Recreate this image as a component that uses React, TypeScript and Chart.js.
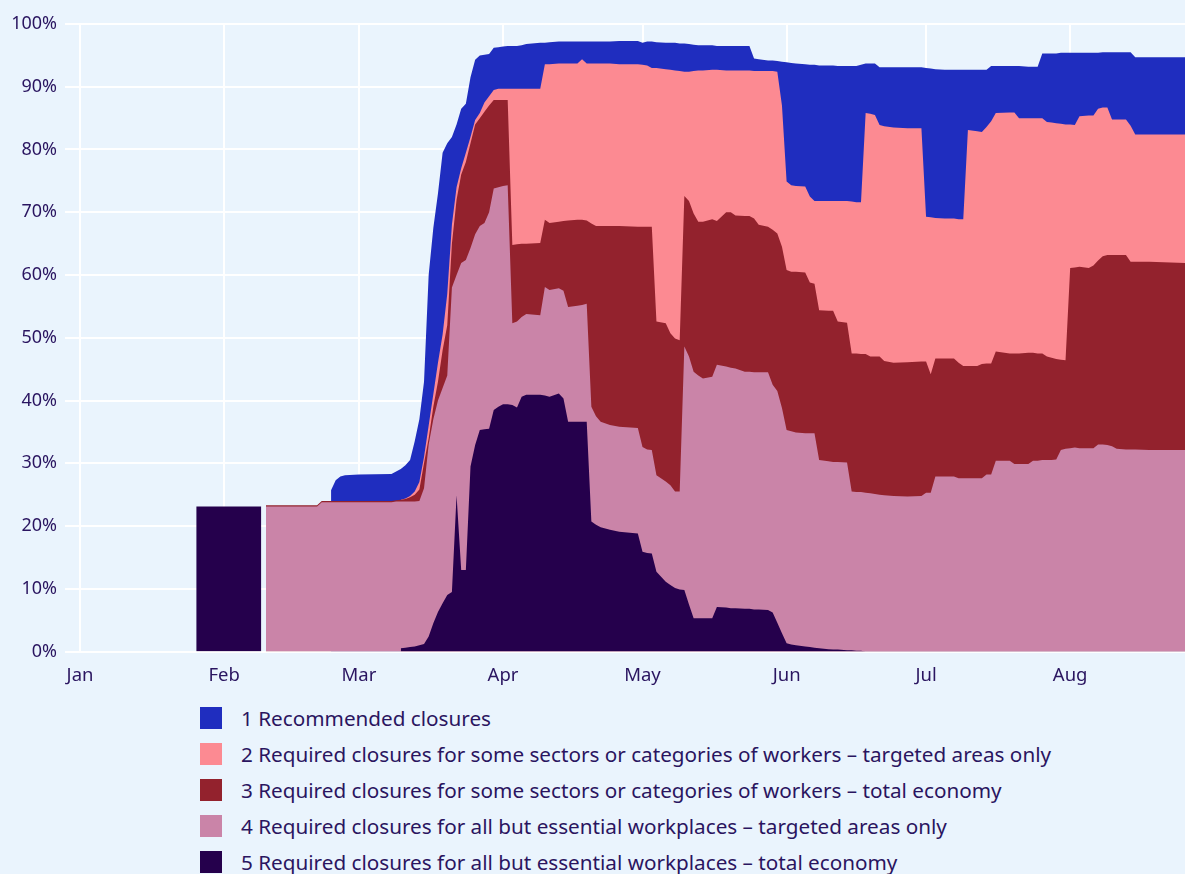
import React, { useEffect, useRef } from "react";
import { Chart, registerables } from "chart.js";

Chart.register(...registerables);

// Day index, 0 = 1 Jan 2020
const days = [
  25, 39, 40, 51, 52, 54, 55, 56, 57, 60,
  67, 68, 69, 70, 71, 72, 73, 74, 75, 76,
  77, 78, 79, 80, 81, 82, 83, 84, 85, 86,
  87, 88, 89, 90, 91, 92, 93, 94, 95, 96,
  99, 100, 101, 103, 104, 105, 107, 108, 109, 110,
  111, 112, 114, 116, 120, 121, 122, 123, 124, 126,
  127, 128, 129, 130, 131, 132, 133, 134, 136, 137,
  139, 140, 141, 143, 144, 145, 146, 148, 149, 150,
  151, 152, 153, 154, 156, 157, 158, 159, 161, 162,
  163, 165, 166, 167, 168, 169, 170, 171, 172, 173,
  175, 178, 181, 182, 183, 184, 186, 188, 189, 190,
  191, 193, 194, 195, 196, 197, 200, 201, 202, 204,
  205, 206, 207, 208, 209, 210, 211, 212, 213, 214,
  215, 217, 218, 219, 220, 221, 222, 223, 225, 226,
  227, 230, 238,
];

// 1 Recommended closures
const level1 = [
  null, null, null, null, null, 1.7, 3.3, 3.9, 4.1, 4.2,
  4.3, 4.6, 4.9, 5.3, 5.7, 8.0, 10.0, 12.0, 24.0, 26.5,
  27.0, 29.0, 24.0, 14.0, 10.0, 9.5, 7.8, 9.5, 9.6, 9.2,
  7.6, 6.7, 6.7, 6.6, 6.7, 6.8, 6.8, 6.8, 6.9, 7.1,
  7.3, 3.4, 3.5, 3.5, 3.5, 3.5, 3.5, 2.8, 3.5, 3.5,
  3.5, 3.5, 3.5, 3.7, 3.7, 3.5, 3.8, 4.2, 4.1, 4.2,
  4.3, 4.4, 4.4, 4.5, 4.4, 4.2, 4.0, 4.0, 3.9, 3.8,
  3.9, 3.9, 3.9, 3.9, 3.9, 2.0, 1.9, 1.7, 1.7, 1.7,
  7.0, 19.0, 19.5, 19.5, 19.5, 21.0, 21.7, 21.6, 21.6, 21.6,
  21.5, 21.5, 21.6, 21.7, 21.9, 7.9, 8.0, 8.2, 9.2, 9.4,
  9.6, 9.7, 9.7, 23.7, 23.7, 23.7, 23.7, 23.7, 23.8, 23.8,
  9.6, 9.8, 9.9, 9.1, 8.8, 7.5, 7.4, 7.4, 8.3, 8.2,
  8.2, 8.2, 10.3, 10.9, 11.0, 11.1, 11.3, 11.4, 11.4, 11.5,
  10.1, 10.0, 10.0, 8.9, 8.8, 8.8, 10.7, 10.7, 10.7, 11.7,
  12.3, 12.3, 12.3,
];

// 2 Required closures for some sectors – targeted areas only
const level2 = [
  null, null, null, null, null, null, null, null, null, null,
  null, null, 0, 0.1, 0.2, 0.5, 1.2, 1.0, 2.0, 2.0,
  3.0, 2.5, 5.0, 3.0, 2.0, 1.0, 1.5, 1.0, 0.7, 0.8,
  1.5, 1.5, 1.6, 1.8, 1.8, 1.8, 24.9, 24.8, 24.7, 24.7,
  24.6, 24.8, 25.3, 25.2, 25.1, 25.0, 24.9, 25.6, 25.0, 25.5,
  25.9, 25.9, 25.9, 25.8, 25.9, 25.8, 25.7, 25.3, 40.4, 40.5,
  42.0, 42.7, 42.9, 19.8, 20.6, 22.7, 24.1, 24.1, 23.8, 24.1,
  22.6, 22.6, 23.1, 23.2, 23.2, 23.5, 24.5, 24.8, 25.3, 25.8,
  22.5, 14.1, 13.8, 13.7, 13.7, 13.7, 13.2, 17.4, 17.5, 17.5,
  19.2, 19.4, 24.2, 24.1, 24.2, 38.4, 38.7, 38.5, 36.9, 37.4,
  37.5, 37.3, 37.2, 23.1, 25.0, 22.4, 22.3, 22.3, 22.9, 23.4,
  37.6, 37.4, 37.0, 37.7, 38.6, 38.0, 38.4, 38.4, 37.5, 37.4,
  37.4, 37.5, 37.5, 37.4, 37.5, 37.6, 37.6, 37.6, 22.9, 22.7,
  24.0, 24.3, 23.9, 24.2, 23.7, 23.5, 21.6, 21.6, 21.6, 21.7,
  20.3, 20.3, 20.5,
];

// 3 Required closures for some sectors – total economy
const level3 = [
  null, null, 0.2, 0.2, 0.2, 0.2, 0.2, 0.2, 0.2, 0.2,
  0.2, 0.2, 0.3, 0.4, 0.7, 1.1, 1.8, 4.0, 1.0, 2.0,
  3.0, 6.0, 8.0, 7.0, 12.0, 14.1, 15.6, 16.7, 17.5, 17.2,
  17.7, 17.0, 14.1, 13.9, 13.7, 13.6, 12.5, 12.3, 11.7, 11.2,
  11.5, 10.7, 10.7, 10.6, 11.1, 13.8, 13.7, 13.6, 13.3, 29.2,
  30.3, 31.2, 31.7, 32.0, 32.1, 35.1, 35.5, 35.6, 24.5, 25.2,
  24.2, 24.4, 24.1, 24.0, 24.8, 25.2, 24.5, 25.0, 25.1, 22.9,
  24.6, 24.8, 24.4, 24.8, 24.8, 24.5, 23.5, 23.2, 24.7, 25.1,
  25.7, 25.5, 25.4, 25.6, 25.6, 24.0, 23.8, 23.9, 24.0, 24.1,
  22.4, 22.3, 22.0, 22.1, 22.0, 22.1, 21.8, 21.9, 22.0, 21.4,
  21.2, 21.4, 21.4, 20.9, 18.9, 18.8, 18.8, 18.8, 18.4, 17.9,
  17.9, 17.9, 18.2, 17.7, 17.7, 17.4, 17.1, 17.6, 17.6, 17.7,
  17.2, 17.1, 17.0, 16.5, 16.3, 16.0, 14.4, 14.1, 28.7, 28.7,
  28.9, 28.7, 29.1, 29.3, 30.0, 30.3, 30.5, 30.9, 31.0, 29.9,
  29.9, 30.0, 29.8,
];

// 4 Required closures for all but essential workplaces – targeted areas only
const level4 = [
  null, null, 23.1, 23.1, 23.8, 23.8, 23.8, 23.8, 23.8, 23.8,
  23.8, 23.9, 23.4, 23.3, 23.2, 23.1, 23.0, 24.8, 30.6, 32.5,
  33.7, 34.3, 35.0, 48.5, 35.1, 48.9, 49.4, 34.8, 33.6, 32.5,
  32.9, 34.5, 35.3, 35.0, 34.8, 34.9, 13.0, 13.7, 12.7, 12.9,
  12.7, 17.3, 17.0, 16.8, 17.2, 18.3, 18.5, 18.6, 18.8, 18.3,
  17.3, 16.8, 16.7, 16.7, 16.8, 16.7, 16.5, 16.5, 15.4, 16.0,
  15.9, 15.4, 15.6, 38.8, 39.5, 39.3, 38.7, 38.2, 38.5, 38.6,
  38.4, 38.3, 38.2, 37.8, 37.8, 37.8, 37.8, 37.9, 36.3, 36.9,
  35.9, 34.0, 34.0, 33.9, 34.0, 34.1, 34.2, 30.0, 29.95, 29.9,
  29.9, 29.9, 25.3, 25.3, 25.3, 25.3, 25.2, 25.1, 25.0, 24.9,
  24.8, 24.7, 24.8, 25.3, 25.3, 27.9, 27.9, 27.9, 27.6, 27.6,
  27.6, 27.6, 27.6, 28.2, 28.2, 30.4, 30.4, 29.9, 29.9, 29.9,
  30.4, 30.4, 30.5, 30.5, 30.5, 30.6, 32.1, 32.3, 32.4, 32.5,
  32.4, 32.4, 32.4, 33.0, 33.0, 32.9, 32.7, 32.3, 32.2, 32.2,
  32.2, 32.1, 32.1,
];

// 5 Required closures for all but essential workplaces – total economy
const level5 = [
  23.1, 23.1, null, null, null, null, null, null, null, null,
  null, null, 0.5, 0.6, 0.7, 0.8, 1.0, 1.2, 2.4, 4.5,
  6.3, 7.7, 9.0, 9.5, 24.9, 13.0, 13.0, 29.5, 32.9, 35.3,
  35.4, 35.5, 38.5, 39.0, 39.4, 39.4, 39.3, 38.9, 40.6, 40.9,
  40.9, 40.8, 40.6, 41.1, 40.3, 36.6, 36.6, 36.6, 36.6, 20.7,
  20.2, 19.8, 19.4, 19.1, 18.8, 15.9, 15.7, 15.6, 12.7, 11.1,
  10.6, 10.1, 9.9, 9.8, 7.5, 5.3, 5.3, 5.3, 5.3, 7.1,
  7.0, 6.9, 6.9, 6.8, 6.8, 6.7, 6.7, 6.6, 6.2, 4.6,
  2.9, 1.3, 1.1, 1.0, 0.8, 0.7, 0.6, 0.5, 0.35, 0.3,
  0.3, 0.2, 0.2, 0.1, 0.1, 0, 0, 0, 0, 0,
  0, 0, 0, 0, 0, 0, 0, 0, 0, 0,
  0, 0, 0, 0, 0, 0, 0, 0, 0, 0,
  0, 0, 0, 0, 0, 0, 0, 0, 0, 0,
  0, 0, 0, 0, 0, 0, 0, 0, 0, 0,
  0, 0, 0,
];

const monthStarts = [0, 31, 60, 91, 121, 152, 182, 213];
const monthLabels = ["Jan", "Feb", "Mar", "Apr", "May", "Jun", "Jul", "Aug"];

const legendLabels = [
  "1 Recommended closures",
  "2 Required closures for some sectors or categories of workers – targeted areas only",
  "3 Required closures for some sectors or categories of workers – total economy",
  "4 Required closures for all but essential workplaces – targeted areas only",
  "5 Required closures for all but essential workplaces – total economy",
];
const levelColors = ["#1f2dbf", "#fc8a92", "#93222d", "#ca84a8", "#25004c"];

const BG = "#eaf4fd";
const TEXT = "#2a1560";
const FONT = "'Noto Sans', 'Open Sans', sans-serif";

const W = 1185;
const CANVAS_H = 700;

export default function App() {
  const ref = useRef<HTMLCanvasElement>(null);

  useEffect(() => {
    const canvas = ref.current;
    if (!canvas) return;
    const toPoints = (vals: (number | null)[]) =>
      days.map((d, i) => ({ x: d, y: vals[i] }));
    const seriesVals = [level1, level2, level3, level4, level5];
    // bottom of stack first: level 5 ... level 1
    const datasets = [4, 3, 2, 1, 0].map((k) => ({
      label: legendLabels[k],
      data: toPoints(seriesVals[k]),
      backgroundColor: levelColors[k],
      borderColor: "rgba(0,0,0,0)",
      borderWidth: 0,
      pointRadius: 0,
      tension: 0,
      fill: "origin",
      spanGaps: false,
    }));

    const chart = new Chart(canvas, {
      type: "line",
      data: { datasets: datasets as any },
      options: {
        animation: false,
        responsive: false,
        maintainAspectRatio: false,
        layout: { padding: { top: 24, right: 0, bottom: 0, left: 0 } },
        plugins: {
          legend: { display: false },
          tooltip: { enabled: false },
        },
        scales: {
          x: {
            type: "linear",
            min: -3.23,
            max: 237.7,
            border: { display: false },
            grid: { color: "#ffffff", lineWidth: 2, drawTicks: false },
            afterBuildTicks: (scale: any) => {
              scale.ticks = monthStarts.map((v) => ({ value: v }));
            },
            afterFit: (scale: any) => {
              scale.height = CANVAS_H - 651.5;
            },
            ticks: {
              autoSkip: false,
              maxRotation: 0,
              padding: 13,
              color: TEXT,
              font: { family: FONT, size: 18.5 },
              callback: (_v: any, i: number) => monthLabels[i],
            },
          },
          y: {
            stacked: true,
            min: 0,
            max: 100,
            border: { display: false },
            grid: { color: "#ffffff", lineWidth: 2, drawTicks: false },
            afterFit: (scale: any) => {
              scale.width = 65;
            },
            ticks: {
              stepSize: 10,
              padding: 8,
              color: TEXT,
              font: { family: FONT, size: 18 },
              callback: (v: any) => `${v}%`,
            },
          },
        },
      },
    });
    return () => chart.destroy();
  }, []);

  return (
    <div
      style={{
        position: "absolute",
        left: 0,
        top: 0,
        width: W,
        height: 874,
        background: BG,
        overflow: "hidden",
      }}
    >
      <canvas
        ref={ref}
        width={W}
        height={CANVAS_H}
        style={{ display: "block", width: W, height: CANVAS_H }}
      />
      <div
        style={{
          position: "absolute",
          left: 200,
          top: 700,
          fontFamily: FONT,
          fontSize: 20.7,
          color: TEXT,
        }}
      >
        {legendLabels.map((label, i) => (
          <div
            key={i}
            style={{ display: "flex", alignItems: "center", height: 36 }}
          >
            <span
              style={{
                width: 22,
                height: 22,
                background: levelColors[i],
                marginRight: 19,
                flex: "none",
              }}
            />
            <span style={{ whiteSpace: "nowrap" }}>{label}</span>
          </div>
        ))}
      </div>
    </div>
  );
}
